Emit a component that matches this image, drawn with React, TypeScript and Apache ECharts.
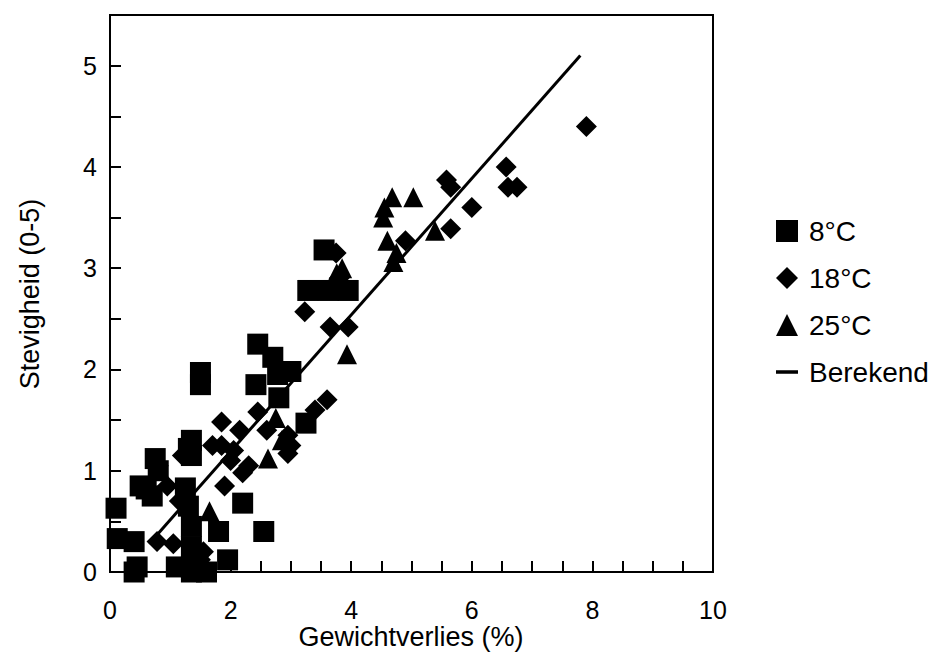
import React, { useEffect, useRef } from "react";
import * as echarts from "echarts";

const xTitle = "Gewichtverlies (%)";
const yTitle = "Stevigheid (0-5)";
const seriesNames = ["8°C", "18°C", "25°C", "Berekend"];

const squares8: number[][] = [
  [0.1, 0.63], [0.12, 0.33], [0.4, 0.3], [0.45, 0.05], [0.4, 0], [0.5, 0.85],
  [0.7, 0.75], [0.6, 0.82], [0.75, 1.12], [0.8, 1.0], [1.1, 0.05], [1.35, 0],
  [1.6, 0], [1.25, 0.83], [1.3, 1.22], [1.35, 1.3], [1.35, 1.15], [1.3, 0.65],
  [1.35, 0.45], [1.35, 0.25], [1.35, 0.05], [1.5, 1.85], [1.5, 1.97], [1.8, 0.4],
  [1.95, 0.12], [2.2, 0.68], [2.55, 0.4], [2.45, 2.25], [2.42, 1.85], [2.7, 2.12],
  [2.78, 1.95], [2.8, 1.72], [3.0, 1.98], [3.25, 1.47], [3.28, 2.78], [3.62, 2.78],
  [3.95, 2.78], [3.55, 3.18],
];

const diamonds18: number[][] = [
  [0.78, 0.3], [0.8, 1.05], [0.95, 0.85], [1.05, 0.28], [1.15, 0.7], [1.2, 1.15],
  [1.5, 0.12], [1.55, 0.2], [1.7, 1.25], [1.85, 1.48], [1.85, 1.25], [1.9, 0.85],
  [2.0, 1.1], [2.05, 1.2], [2.15, 1.4], [2.2, 0.98], [2.3, 1.05], [2.45, 1.58],
  [2.6, 1.4], [2.95, 1.35], [2.95, 1.17], [3.0, 1.25], [3.23, 2.57], [3.4, 1.6],
  [3.6, 1.7], [3.65, 2.42], [3.95, 2.42], [3.75, 3.15], [3.8, 2.9], [4.9, 3.27],
  [5.58, 3.87], [5.65, 3.8], [5.65, 3.39], [6.0, 3.6], [6.57, 4.0], [6.6, 3.8],
  [6.75, 3.8], [7.9, 4.4],
];

const triangles25: number[][] = [
  [1.65, 0.6], [2.62, 1.12], [2.75, 1.52], [2.85, 1.3], [3.76, 2.95], [3.85, 3.0],
  [3.93, 2.15], [4.55, 3.6], [4.53, 3.5], [4.6, 3.27], [4.7, 3.06], [4.68, 3.7],
  [5.03, 3.7], [5.39, 3.37], [4.75, 3.15],
];

const berekend: number[][] = [
  [0.65, 0.28], [7.8, 5.1],
];

const FONT = "'Liberation Sans', Arial, Helvetica, sans-serif";

export default function App() {
  const ref = useRef<HTMLDivElement>(null);
  useEffect(() => {
    if (!ref.current) return;
    const chart = echarts.init(ref.current, undefined, { renderer: "svg" });
    const black = "#000";
    chart.setOption({
      animation: false,
      backgroundColor: "#fff",
      grid: {
        left: 110, top: 15, right: 226, bottom: 94,
        show: true, borderColor: black, borderWidth: 2, backgroundColor: "transparent",
      },
      xAxis: {
        type: "value", min: 0, max: 10, interval: 0.5,
        axisLine: { show: true, lineStyle: { color: black, width: 2 } },
        axisTick: { show: true, inside: true, length: 11, lineStyle: { color: black, width: 2 } },
        splitLine: { show: false },
        axisLabel: {
          margin: 25, color: black, fontSize: 25, fontFamily: FONT,
          formatter: (v: number) => (Math.abs(v % 2) < 1e-9 ? String(v) : ""),
        },
      },
      yAxis: {
        type: "value", min: 0, max: 5.5, interval: 0.5,
        axisLine: { show: true, lineStyle: { color: black, width: 2 } },
        axisTick: { show: true, inside: true, length: 11, lineStyle: { color: black, width: 2 } },
        splitLine: { show: false },
        axisLabel: {
          margin: 13, color: black, fontSize: 25, fontFamily: FONT,
          formatter: (v: number) => (Math.abs(v % 1) < 1e-9 ? String(v) : ""),
        },
      },
      legend: {
        orient: "vertical", left: 771, top: 212, itemGap: 19,
        itemWidth: 22, itemHeight: 22, symbolKeepAspect: true,
        data: [
          { name: seriesNames[0], icon: "rect" },
          { name: seriesNames[1], icon: "diamond" },
          { name: seriesNames[2], icon: "triangle" },
          { name: seriesNames[3], icon: "path://M0,0 L28,0 L28,4.5 L0,4.5 Z" },
        ],
        textStyle: { color: black, fontSize: 28, fontFamily: FONT, lineHeight: 28, padding: [0, 0, 0, 6] },
      },
      graphic: [
        {
          type: "text", x: 411, y: 637,
          style: { text: xTitle, fill: black, font: `27px ${FONT}`, textAlign: "center", textVerticalAlign: "middle" },
        },
        {
          type: "text", x: 30, y: 294, rotation: Math.PI / 2,
          style: { text: yTitle, fill: black, font: `27px ${FONT}`, textAlign: "center", textVerticalAlign: "middle" },
        },
      ],
      series: [
        {
          name: seriesNames[0], type: "scatter", symbol: "rect", symbolSize: 21,
          itemStyle: { color: black, opacity: 1 }, data: squares8,
        },
        {
          name: seriesNames[1], type: "scatter", symbol: "diamond", symbolSize: 21,
          itemStyle: { color: black, opacity: 1 }, data: diamonds18,
        },
        {
          name: seriesNames[2], type: "scatter", symbol: "triangle", symbolSize: 20,
          itemStyle: { color: black, opacity: 1 }, data: triangles25,
        },
        {
          name: seriesNames[3], type: "line", symbol: "none", showSymbol: false,
          lineStyle: { color: black, width: 3 }, itemStyle: { color: black }, data: berekend,
        },
      ],
    });
    return () => chart.dispose();
  }, []);
  return (
    <div
      ref={ref}
      style={{ position: "fixed", left: 0, top: 0, width: 939, height: 666, background: "#fff" }}
    />
  );
}
